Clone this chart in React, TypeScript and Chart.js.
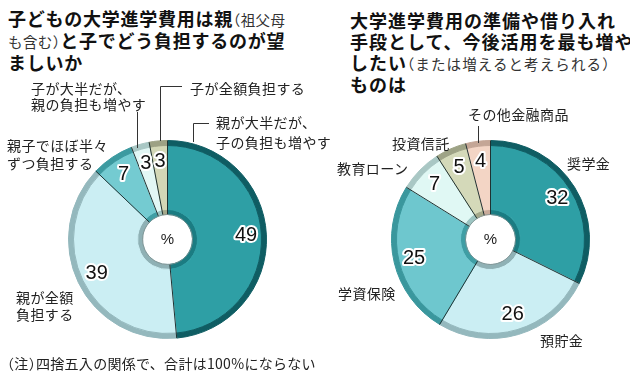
import React, { useEffect, useRef } from "react";
import { Chart, registerables } from "chart.js";

Chart.register(...registerables);

// ---- Data ----
const LEFT_CATEGORIES = [
  "親が大半だが、\n子の負担も増やす",
  "親が全額\n負担する",
  "親子でほぼ半々\nずつ負担する",
  "子が大半だが、\n親の負担も増やす",
  "子が全額負担する",
];
const LEFT_VALUES = [49, 39, 7, 3, 3];

const RIGHT_CATEGORIES = ["奨学金", "預貯金", "学資保険", "教育ローン", "投資信託", "その他金融商品"];
const RIGHT_VALUES = [32, 26, 25, 7, 5, 4];

const NOTE = "（注）四捨五入の関係で、合計は100%にならない";

// ---- Styles ----
const LEFT_FILLS = ["#2e9fa5", "#cbeef3", "#74cbd1", "#e2f7f5", "#d3d7b6"];
const LEFT_RIMS = ["#0f5d63", "#94b8bd", "#3c9aa0", "#a9c7c4", "#9da184"];
const LEFT_INNERS = ["#1b7c82", "#8fb1b5", "#3f9ea4", "#9dc5c2", "#a4a88a"];

const RIGHT_FILLS = ["#2e9fa5", "#cbeef3", "#6ec7ce", "#e0f8f4", "#d4d9b9", "#f3d5c5"];
const RIGHT_RIMS = ["#0f5d63", "#94b8bd", "#3a979d", "#a9c7c4", "#9ea386", "#c4a696"];
const RIGHT_INNERS = ["#1b7c82", "#8fb1b5", "#3f9ea4", "#9dc5c2", "#a4a88a", "#c8aa9a"];

const FONT = "'Noto Sans CJK JP', 'Noto Sans', sans-serif";

const labelPlugin = {
  id: "donutLabels",
  afterDatasetsDraw(chart: any) {
    const ctx = chart.ctx;
    const outer = chart.getDatasetMeta(0).data;
    const main = chart.getDatasetMeta(1).data;
    const inner = chart.getDatasetMeta(2).data;
    if (!main.length) return;
    const cx = main[0].x;
    const cy = main[0].y;
    const rOut = outer[0].outerRadius;
    const rIn = inner[0].innerRadius;
    const vals = chart.data.datasets[1].data;
    ctx.save();
    ctx.strokeStyle = "#1f3232";
    ctx.lineWidth = 1;
    main.forEach((a: any) => {
      const ang = a.startAngle;
      ctx.beginPath();
      ctx.moveTo(cx + rIn * Math.cos(ang), cy + rIn * Math.sin(ang));
      ctx.lineTo(cx + rOut * Math.cos(ang), cy + rOut * Math.sin(ang));
      ctx.stroke();
    });
    ctx.beginPath();
    ctx.arc(cx, cy, rIn, 0, Math.PI * 2);
    ctx.strokeStyle = "#7f9090";
    ctx.lineWidth = 0.8;
    ctx.stroke();
    ctx.font = '20px "Liberation Sans", Arial, sans-serif';
    ctx.textAlign = "center";
    ctx.textBaseline = "middle";
    ctx.lineJoin = "round";
    main.forEach((a: any, i: number) => {
      const mid = (a.startAngle + a.endAngle) / 2;
      const r = a.innerRadius + 0.76 * (a.outerRadius - a.innerRadius);
      const x = cx + r * Math.cos(mid);
      const y = cy + r * Math.sin(mid);
      ctx.strokeStyle = "#ffffff";
      ctx.lineWidth = 4;
      ctx.strokeText(String(vals[i]), x, y);
      ctx.fillStyle = "#111";
      ctx.fillText(String(vals[i]), x, y);
    });
    ctx.font = '15px "Liberation Sans", Arial, sans-serif';
    ctx.fillStyle = "#222";
    ctx.fillText("%", cx, cy);
    ctx.restore();
  },
};

function Donut(props: {
  values: number[];
  fills: string[];
  rims: string[];
  inners: string[];
  left: number;
  top: number;
  size: number;
}) {
  const ref = useRef<HTMLCanvasElement | null>(null);
  useEffect(() => {
    const { values, fills, rims, inners } = props;
    const chart = new Chart(ref.current as HTMLCanvasElement, {
      type: "doughnut",
      data: {
        labels: values.map(String),
        datasets: [
          { data: values, backgroundColor: rims, borderColor: rims, borderWidth: 1, weight: 5 } as any,
          { data: values, backgroundColor: fills, borderColor: fills, borderWidth: 1, weight: 64 } as any,
          { data: values, backgroundColor: inners, borderColor: inners, borderWidth: 1, weight: 5 } as any,
        ],
      },
      options: {
        responsive: false,
        animation: false,
        events: [],
        cutout: 25,
        layout: { padding: 0 },
        plugins: { legend: { display: false }, tooltip: { enabled: false } },
      } as any,
      plugins: [labelPlugin],
    });
    return () => chart.destroy();
  }, []);
  return (
    <canvas
      ref={ref}
      width={props.size}
      height={props.size}
      style={{ position: "absolute", left: props.left, top: props.top, width: props.size, height: props.size }}
    />
  );
}

// Render text with half-width brackets (like the reference typography)
function T(props: { s: string }) {
  const parts = props.s.split(/([（）])/);
  return (
    <>
      {parts.map((p, i) =>
        p === "（" || p === "）" ? (
          <span key={i} style={{ fontFeatureSettings: '"halt"' }}>
            {p}
          </span>
        ) : (
          <React.Fragment key={i}>{p}</React.Fragment>
        )
      )}
    </>
  );
}

function Label(props: { text: string; x: number; cy: number; lh: number; fs?: number; ls?: number }) {
  const lines = props.text.split("\n").length;
  return (
    <div
      style={{
        position: "absolute",
        left: props.x,
        top: props.cy - props.lh / 2,
        fontFamily: FONT,
        fontSize: props.fs ?? 14,
        letterSpacing: props.ls ?? 0.4,
        lineHeight: props.lh + "px",
        whiteSpace: "pre",
        color: "#222",
        height: lines * props.lh,
      }}
    >
      <T s={props.text} />
    </div>
  );
}

export default function App() {
  const bold: React.CSSProperties = { fontWeight: 700, fontSize: 18, color: "#111" };
  const small: React.CSSProperties = { fontWeight: 400, fontSize: 14.5, color: "#333", letterSpacing: 0.4 };
  return (
    <div
      style={{
        position: "absolute",
        left: 0,
        top: 0,
        width: 630,
        height: 378,
        background: "#fff",
        overflow: "hidden",
        fontFamily: FONT,
      }}
    >
      {/* Left title */}
      <div style={{ position: "absolute", left: 8, top: 8, lineHeight: "21px", letterSpacing: 0.75, whiteSpace: "pre" }}>
        <div>
          <span style={bold}>子どもの大学進学費用は親</span>
          <span style={small}>
            <T s="（祖父母" />
          </span>
        </div>
        <div>
          <span style={small}>
            <T s="も含む）" />
          </span>
          <span style={bold}>と子でどう負担するのが望</span>
        </div>
        <div>
          <span style={bold}>ましいか</span>
        </div>
      </div>
      {/* Right title */}
      <div style={{ position: "absolute", left: 350, top: 10, lineHeight: "20px", letterSpacing: 1, whiteSpace: "pre" }}>
        <div>
          <span style={bold}>大学進学費用の準備や借り入れ</span>
        </div>
        <div>
          <span style={bold}>手段として、今後活用を最も増や</span>
        </div>
        <div>
          <span style={bold}>したい</span>
          <span style={{ ...small, letterSpacing: 1.1 }}>
            <T s="（または増えると考えられる）" />
          </span>
        </div>
        <div>
          <span style={bold}>ものは</span>
        </div>
      </div>

      <Donut values={LEFT_VALUES} fills={LEFT_FILLS} rims={LEFT_RIMS} inners={LEFT_INNERS} left={68} top={140} size={199} />
      <Donut values={RIGHT_VALUES} fills={RIGHT_FILLS} rims={RIGHT_RIMS} inners={RIGHT_INNERS} left={391} top={140} size={199} />

      {/* Leader lines */}
      <svg width={630} height={378} style={{ position: "absolute", left: 0, top: 0 }}>
        <g stroke="#333" strokeWidth={1} fill="none">
          <polyline points="182,86.5 160.5,86.5 160.5,141" />
          <line x1={137.5} y1={112} x2={137.5} y2={148} />
          <polyline points="209,123.5 193.5,123.5 193.5,142" />
          <line x1={478.5} y1={126} x2={478.5} y2={143} />
        </g>
      </svg>

      {/* Left labels */}
      <Label text={LEFT_CATEGORIES[4]} x={190} cy={88} lh={16} />
      <Label text={LEFT_CATEGORIES[3]} x={31} cy={88} lh={16} />
      <Label text={LEFT_CATEGORIES[0]} x={216} cy={122} lh={20} />
      <Label text={LEFT_CATEGORIES[2]} x={7} cy={145} lh={18} />
      <Label text={LEFT_CATEGORIES[1]} x={16} cy={297} lh={17} />

      {/* Right labels */}
      <Label text={RIGHT_CATEGORIES[5]} x={468} cy={114} lh={18} />
      <Label text={RIGHT_CATEGORIES[4]} x={392} cy={143} lh={18} />
      <Label text={RIGHT_CATEGORIES[3]} x={337} cy={168} lh={18} />
      <Label text={RIGHT_CATEGORIES[0]} x={567} cy={163} lh={18} />
      <Label text={RIGHT_CATEGORIES[2]} x={338} cy={293} lh={18} />
      <Label text={RIGHT_CATEGORIES[1]} x={540} cy={340} lh={18} />

      {/* Note */}
      <Label text={NOTE} x={7} cy={363} lh={18} fs={14} ls={0.3} />
    </div>
  );
}
